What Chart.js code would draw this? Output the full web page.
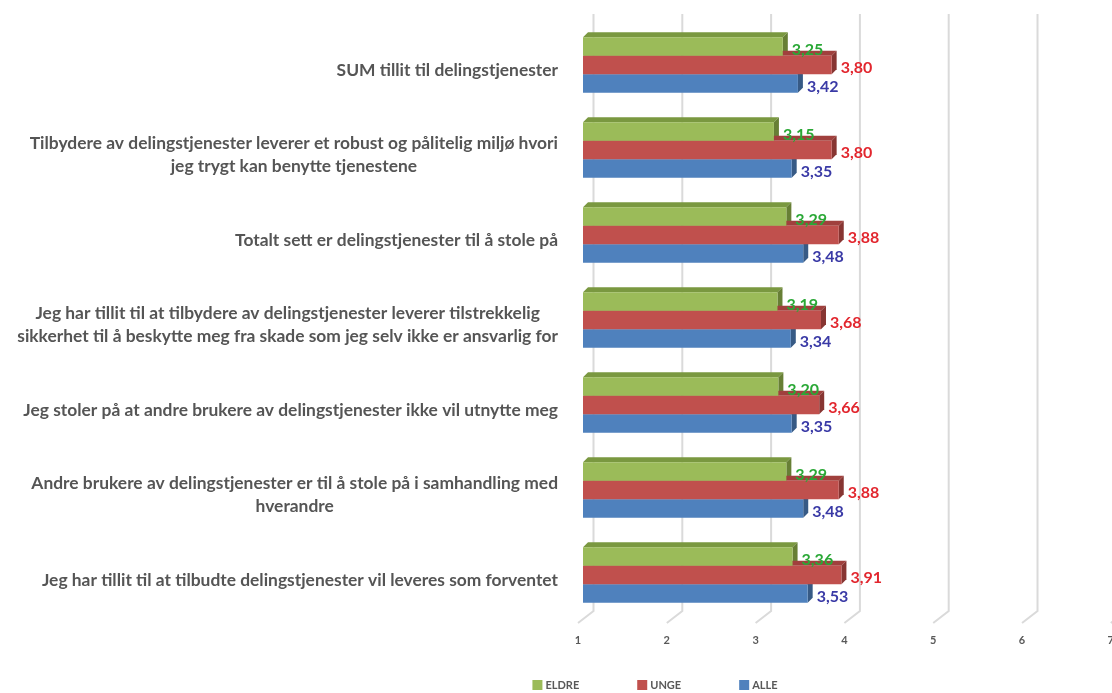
<!DOCTYPE html>
<html>
<head>
<meta charset="utf-8">
<script src="https://cdn.jsdelivr.net/npm/chart.js@4.4.0/dist/chart.umd.min.js"></script>
<style>
  html, body { margin: 0; padding: 0; background: #fff; overflow: hidden; }
  canvas { display: block; }
</style>
</head>
<body>
<canvas id="myChart" width="1135" height="693"></canvas>
<script>
// categories, top to bottom
const categories = [
    ['SUM tillit til delingstjenester'],
    ['Tilbydere av delingstjenester leverer et robust og pålitelig miljø hvori', 'jeg trygt kan benytte tjenestene'],
    ['Totalt sett er delingstjenester til å stole på'],
    ['Jeg har tillit til at tilbydere av delingstjenester leverer tilstrekkelig', 'sikkerhet til å beskytte meg fra skade som jeg selv ikke er ansvarlig for'],
    ['Jeg stoler på at andre brukere av delingstjenester ikke vil utnytte meg'],
    ['Andre brukere av delingstjenester er til å stole på i samhandling med', 'hverandre'],
    ['Jeg har tillit til at tilbudte delingstjenester vil leveres som forventet']
];
const eldre = [3.25, 3.15, 3.29, 3.19, 3.20, 3.29, 3.36];
const unge  = [3.80, 3.80, 3.88, 3.68, 3.66, 3.88, 3.91];
const alle  = [3.42, 3.35, 3.48, 3.34, 3.35, 3.48, 3.53];
const xTicks = [1, 2, 3, 4, 5, 6, 7];

const FONT = 'Lato, "Open Sans", sans-serif';
const DX = 5, DY = 5; // 3d depth of the bars

// fake 3d: back wall grid, bar top/side faces, plus labels and legend
const threeD = {
    id: 'threeD',
    beforeDatasetsDraw(chart) {
        const ctx = chart.ctx;
        const xs = chart.scales.x;
        const area = chart.chartArea;
        ctx.save();
        ctx.strokeStyle = '#dadada';
        ctx.lineWidth = 2;
        xTicks.forEach(v => {
            const px = xs.getPixelForValue(v);
            ctx.beginPath();
            ctx.moveTo(px + 10.5, area.top - 8.5);
            ctx.lineTo(px + 10.5, area.bottom - 6.5);
            ctx.lineTo(px - 5, area.bottom + 5.5);
            ctx.stroke();
        });
        chart.data.datasets.forEach((ds, di) => {
            chart.getDatasetMeta(di).data.forEach(bar => {
                const p = bar.getProps(['x', 'y', 'base', 'height'], true);
                const top = p.y - p.height / 2, bot = p.y + p.height / 2;
                ctx.fillStyle = ds.topColor;
                ctx.beginPath();
                ctx.moveTo(p.base, top);
                ctx.lineTo(p.base + DX, top - DY);
                ctx.lineTo(p.x + DX, top - DY);
                ctx.lineTo(p.x, top);
                ctx.closePath();
                ctx.fill();
                ctx.fillStyle = ds.sideColor;
                ctx.beginPath();
                ctx.moveTo(p.x, top);
                ctx.lineTo(p.x + DX, top - DY);
                ctx.lineTo(p.x + DX, bot - DY);
                ctx.lineTo(p.x, bot);
                ctx.closePath();
                ctx.fill();
            });
        });
        ctx.restore();
    },
    afterDatasetsDraw(chart) {
        const ctx = chart.ctx;
        ctx.save();
        // value labels
        ctx.font = 'bold 16px ' + FONT;
        ctx.textAlign = 'left';
        ctx.textBaseline = 'middle';
        chart.data.datasets.forEach((ds, di) => {
            chart.getDatasetMeta(di).data.forEach((bar, i) => {
                ctx.fillStyle = ds.labelColor;
                ctx.fillText(ds.data[i].toFixed(2).replace('.', ','), bar.x + 9, bar.y + 3);
            });
        });
        // category labels (lines centred, block right aligned)
        const ys = chart.scales.y;
        const right = chart.chartArea.left - 25;
        ctx.font = 'bold 14px ' + FONT;
        const longest = Math.max(...categories.flat().map(l => ctx.measureText(l).width));
        const size = 14 * 541 / longest;
        ctx.font = 'bold ' + size.toFixed(2) + 'px ' + FONT;
        ctx.fillStyle = '#555555';
        ctx.textAlign = 'center';
        categories.forEach((lines, i) => {
            const cy = ys.getPixelForValue(i) + 5;
            const w = Math.max(...lines.map(l => ctx.measureText(l).width));
            lines.forEach((l, k) => {
                ctx.fillText(l, right - w / 2, cy + (k - (lines.length - 1) / 2) * 23);
            });
        });
        // legend
        ctx.font = 'bold 11px ' + FONT;
        ctx.textAlign = 'left';
        const gap = 58, box = 10;
        const items = chart.data.datasets.map(ds => ({ ds, w: box + 3 + ctx.measureText(ds.label).width }));
        const total = items.reduce((s, it) => s + it.w, 0) + gap * (items.length - 1);
        let lx = 655 - total / 2;
        const ly = 685;
        items.forEach(it => {
            ctx.fillStyle = it.ds.backgroundColor;
            ctx.fillRect(lx, ly - box / 2, box, box);
            ctx.fillStyle = '#595959';
            ctx.fillText(it.ds.label, lx + box + 3, ly + 0.5);
            lx += it.w + gap;
        });
        ctx.restore();
    }
};

const ctx = document.getElementById('myChart').getContext('2d');
const myChart = new Chart(ctx, {
    type: 'bar',
    data: {
        labels: categories,
        datasets: [
            { label: 'ELDRE', data: eldre, backgroundColor: '#9bbb59', topColor: '#7a9840', sideColor: '#677f35', labelColor: '#2aa836' },
            { label: 'UNGE', data: unge, backgroundColor: '#c0504d', topColor: '#a0403d', sideColor: '#873532', labelColor: '#e2262e' },
            { label: 'ALLE', data: alle, backgroundColor: '#4f81bd', topColor: '#41699a', sideColor: '#375a85', labelColor: '#3a3aa6' }
        ]
    },
    options: {
        indexAxis: 'y',
        responsive: false,
        animation: false,
        datasets: {
            bar: { base: 1, categoryPercentage: 0.655, barPercentage: 1.0, borderWidth: 0 }
        },
        layout: { padding: { left: 583, right: 8, top: 22.5, bottom: 0 } },
        scales: {
            x: {
                min: 1,
                max: 7,
                grid: { display: false, drawTicks: false },
                border: { display: false },
                afterFit: (scale) => { scale.height = 75.5; },
                ticks: {
                    stepSize: 1,
                    padding: 16,
                    labelOffset: -5,
                    color: '#595959',
                    font: { family: FONT, size: 11, weight: 'bold' },
                    callback: (v) => xTicks.includes(v) ? String(v) : ''
                }
            },
            y: {
                display: false
            }
        },
        plugins: {
            legend: { display: false },
            tooltip: { enabled: false }
        }
    },
    plugins: [threeD]
});
</script>
</body>
</html>
